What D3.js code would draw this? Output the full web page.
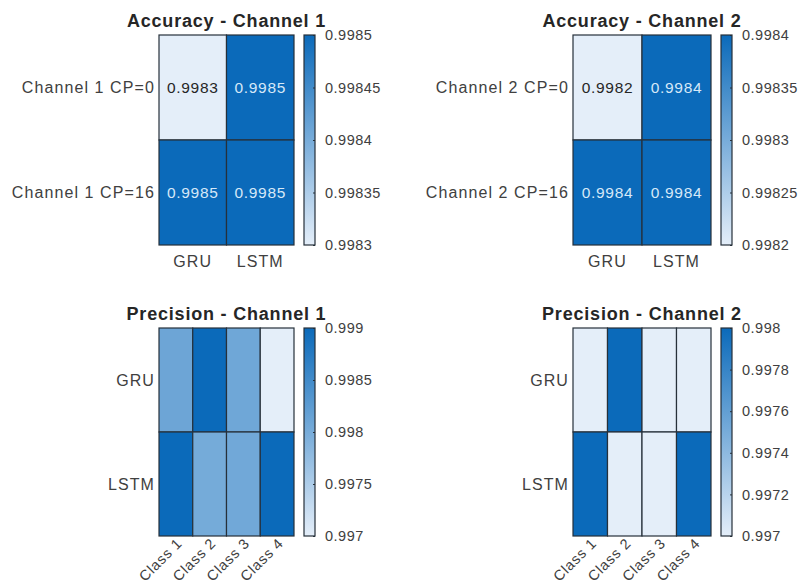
<!DOCTYPE html>
<html>
<head>
<meta charset="utf-8">
<script src="https://cdn.jsdelivr.net/npm/d3@7"></script>
<style>
  html, body { margin: 0; padding: 0; background: #ffffff; }
  svg { display: block; }
  text { font-family: "Liberation Sans", Arial, sans-serif; }
</style>
</head>
<body>
<svg id="chart" width="798" height="586"></svg>
<script>
// Models and classes
const models = ["GRU", "LSTM"];
const classes = ["Class 1", "Class 2", "Class 3", "Class 4"];

// Accuracy per cyclic-prefix setting (rows) and model (columns)
const accRowsCh1 = ["Channel 1 CP=0", "Channel 1 CP=16"];
const accRowsCh2 = ["Channel 2 CP=0", "Channel 2 CP=16"];
const accCh1 = [[0.9983, 0.9985], [0.9985, 0.9985]];
const accCh2 = [[0.9982, 0.9984], [0.9984, 0.9984]];

// Precision per model (rows) and class (columns)
const precCh1 = [[0.9981, 0.9990, 0.99808, 0.9970], [0.9990, 0.99802, 0.99806, 0.9990]];
const precCh2 = [[0.9970, 0.9980, 0.9970, 0.9970], [0.9980, 0.9970, 0.9970, 0.9980]];

// Colour limits and colourbar ticks
const accCh1Limits = [0.9983, 0.9985];
const accCh2Limits = [0.9982, 0.9984];
const precCh1Limits = [0.997, 0.999];
const precCh2Limits = [0.997, 0.998];
const accCh1Ticks = ["0.9983", "0.99835", "0.9984", "0.99845", "0.9985"];
const accCh2Ticks = ["0.9982", "0.99825", "0.9983", "0.99835", "0.9984"];
const precCh1Ticks = ["0.997", "0.9975", "0.998", "0.9985", "0.999"];
const precCh2Ticks = ["0.997", "0.9972", "0.9974", "0.9976", "0.9978", "0.998"];

const LIGHT = "#e4eef9";
const DARK = "#0b6aba";
const LINE = "#26303a";
const LABEL = "#404040";

const svg = d3.select("#chart");

function heatmap(opt) {
  const g = svg.append("g");
  const x = d3.scaleBand().domain(opt.cols).range([opt.x0, opt.x1]);
  const y = d3.scaleBand().domain(opt.rows).range([opt.y0, opt.y1]);
  const color = d3.scaleLinear().domain(opt.limits).range([LIGHT, DARK])
    .interpolate(d3.interpolateRgb).clamp(true);

  const cells = [];
  opt.values.forEach((row, i) => row.forEach((v, j) => cells.push({ r: opt.rows[i], c: opt.cols[j], v })));

  g.selectAll("rect.cell").data(cells).join("rect")
    .attr("class", "cell")
    .attr("x", d => x(d.c)).attr("y", d => y(d.r))
    .attr("width", x.bandwidth()).attr("height", y.bandwidth())
    .attr("fill", d => color(d.v))
    .attr("stroke", LINE).attr("stroke-width", 1.2);

  if (opt.showValues) {
    const mid = (opt.limits[0] + opt.limits[1]) / 2;
    g.selectAll("text.val").data(cells).join("text")
      .attr("class", "val")
      .attr("x", d => x(d.c) + x.bandwidth() / 2)
      .attr("y", d => y(d.r) + y.bandwidth() / 2)
      .attr("dy", "0.36em")
      .attr("text-anchor", "middle")
      .attr("font-size", 15.5).attr("letter-spacing", 0.7)
      .attr("fill", d => d.v > mid ? "#d6e8f8" : "#262626")
      .text(d => d3.format(".4f")(d.v));
  }

  // Row labels
  g.selectAll("text.row").data(opt.rows).join("text")
    .attr("class", "row")
    .attr("x", opt.x0 - 4)
    .attr("y", d => y(d) + y.bandwidth() / 2)
    .attr("dy", "0.36em")
    .attr("text-anchor", "end")
    .attr("font-size", 16).attr("letter-spacing", 1.1)
    .attr("fill", LABEL)
    .text(d => d);

  // Column labels (class labels are slanted)
  const cl = g.selectAll("text.col").data(opt.cols).join("text")
    .attr("class", "col")
    .attr("font-size", opt.rotate ? 14.5 : 16).attr("letter-spacing", opt.rotate ? 0.8 : 1.1)
    .attr("fill", LABEL)
    .text(d => d);
  if (opt.rotate) {
    cl.attr("text-anchor", "end")
      .attr("transform", d => `translate(${x(d) + x.bandwidth() / 2},${opt.y1 + 1}) rotate(-45)`)
      .attr("dy", "0.7em");
  } else {
    cl.attr("text-anchor", "middle")
      .attr("x", d => x(d) + x.bandwidth() / 2)
      .attr("y", opt.y1 + 22);
  }

  // Title
  g.append("text")
    .attr("x", (opt.x0 + opt.x1) / 2)
    .attr("y", opt.y0 - 8)
    .attr("text-anchor", "middle")
    .attr("font-size", 18).attr("font-weight", "bold").attr("letter-spacing", 0.8)
    .attr("fill", "#262626")
    .text(opt.title);

  // Colourbar
  const cbX = opt.x1 + 10, cbW = 11;
  const gradId = "grad" + opt.id;
  const grad = svg.append("defs").append("linearGradient")
    .attr("id", gradId).attr("x1", 0).attr("y1", 1).attr("x2", 0).attr("y2", 0);
  grad.append("stop").attr("offset", "0%").attr("stop-color", color(opt.limits[0]));
  grad.append("stop").attr("offset", "100%").attr("stop-color", color(opt.limits[1]));
  g.append("rect")
    .attr("x", cbX).attr("y", opt.y0).attr("width", cbW).attr("height", opt.y1 - opt.y0)
    .attr("fill", `url(#${gradId})`).attr("stroke", LINE).attr("stroke-width", 1.2);

  const cy = d3.scaleLinear().domain(opt.limits).range([opt.y1, opt.y0]);
  const axis = d3.axisRight(cy)
    .tickValues(opt.ticks.map(Number))
    .tickFormat((d, i) => opt.ticks[i])
    .tickSize(0).tickPadding(10);
  const ag = g.append("g").attr("transform", `translate(${cbX + cbW},0)`).call(axis);
  ag.select(".domain").remove();
  ag.selectAll("text").attr("font-size", 14.5).attr("letter-spacing", 0.5)
    .attr("fill", LABEL).attr("font-family", "Liberation Sans, Arial, sans-serif");
  // small inward tick marks
  ag.selectAll(".tick").append("line")
    .attr("x1", -2).attr("x2", 0).attr("stroke", LINE).attr("stroke-width", 1);
}

heatmap({ id: 1, title: "Accuracy - Channel 1", rows: accRowsCh1, cols: models, values: accCh1,
  limits: accCh1Limits, ticks: accCh1Ticks, x0: 159, x1: 294, y0: 35, y1: 245, showValues: true });
heatmap({ id: 2, title: "Accuracy - Channel 2", rows: accRowsCh2, cols: models, values: accCh2,
  limits: accCh2Limits, ticks: accCh2Ticks, x0: 573, x1: 711, y0: 35, y1: 245, showValues: true });
heatmap({ id: 3, title: "Precision - Channel 1", rows: models, cols: classes, values: precCh1,
  limits: precCh1Limits, ticks: precCh1Ticks, x0: 159, x1: 294, y0: 328, y1: 536, rotate: true });
heatmap({ id: 4, title: "Precision - Channel 2", rows: models, cols: classes, values: precCh2,
  limits: precCh2Limits, ticks: precCh2Ticks, x0: 573, x1: 711, y0: 328, y1: 536, rotate: true });
</script>
</body>
</html>
